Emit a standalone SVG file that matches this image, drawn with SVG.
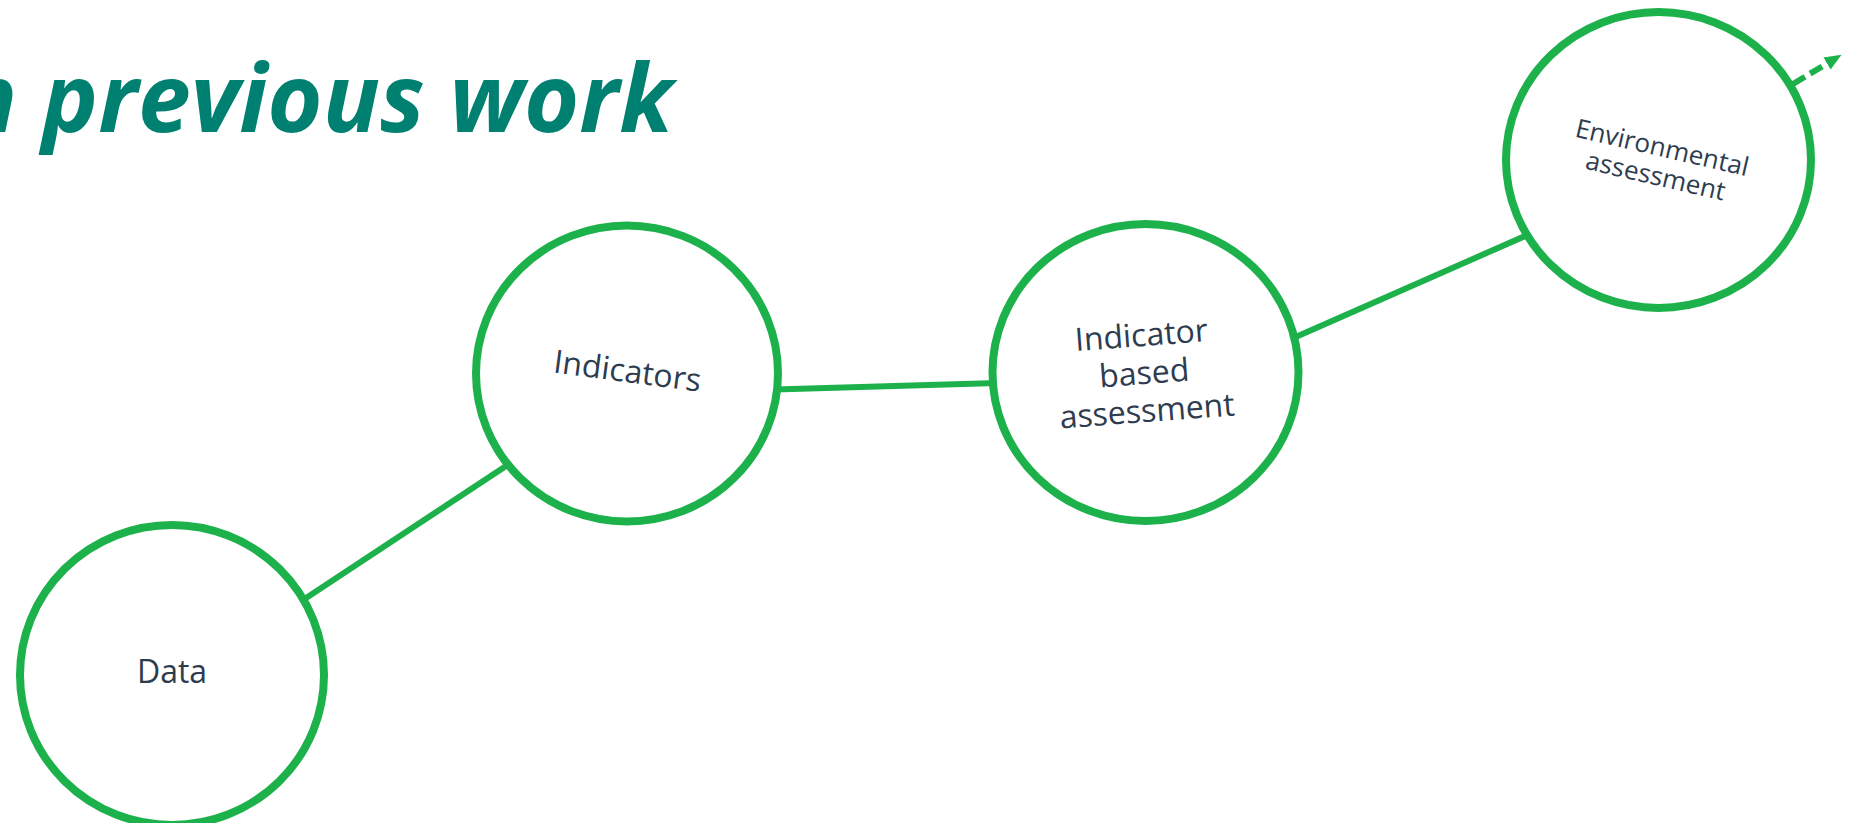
<svg xmlns="http://www.w3.org/2000/svg" width="1858" height="823" viewBox="0 0 1858 823">
  <style>
    .node { fill: #ffffff; stroke: #1db14b; stroke-width: 8; }
    .link { stroke: #1db14b; stroke-width: 6; fill: none; }
    .dash { stroke: #1db14b; stroke-width: 6; fill: none; stroke-dasharray: 14 6; }
    .lbl { font-family: "Open Sans", "Noto Sans", "DejaVu Sans", sans-serif; font-size: 32px; fill: #2e3c4f; text-anchor: middle; }
    .lbl-sm { font-size: 26px; }
    .title { font-family: "Open Sans", "Liberation Sans", sans-serif; font-weight: bold; font-style: italic; font-size: 95px; fill: #008070; }
  </style>
  <defs>
    <marker id="arrow" markerUnits="userSpaceOnUse" markerWidth="18" markerHeight="14" refX="0" refY="7" orient="auto">
      <path d="M0,0 L17,7 L0,14 z" fill="#1db14b"/>
    </marker>
  </defs>
  <rect width="1858" height="823" fill="#ffffff"/>
  <text class="title" x="-40" y="132" textLength="713" lengthAdjust="spacingAndGlyphs">n previous work</text>
  <g id="connectors">
    <line class="link" x1="300" y1="602" x2="512" y2="462"/>
    <line class="link" x1="775" y1="389.5" x2="997" y2="383"/>
    <line class="link" x1="1290" y1="339.4" x2="1532" y2="233"/>
    <line class="dash" x1="1793" y1="84" x2="1827" y2="63.5" marker-end="url(#arrow)"/>
  </g>
  <g id="node-data">
    <ellipse class="node" cx="172" cy="675" rx="152" ry="150"/>
    <text class="lbl" x="172" y="683">Data</text>
  </g>
  <g id="node-indicators">
    <ellipse class="node" cx="627" cy="373.5" rx="151" ry="148"/>
    <text class="lbl" transform="translate(626,382) rotate(7.5)" x="0" y="0">Indicators</text>
  </g>
  <g id="node-indicator-based-assessment">
    <ellipse class="node" cx="1145.5" cy="372.5" rx="153" ry="148.5"/>
    <g transform="translate(1145,384) rotate(-4.3)">
      <text class="lbl" x="0" y="-38">Indicator</text>
      <text class="lbl" x="0" y="0">based</text>
      <text class="lbl" x="0" y="38">assessment</text>
    </g>
  </g>
  <g id="node-environmental-assessment">
    <ellipse class="node" cx="1658.5" cy="160" rx="152.5" ry="148"/>
    <g transform="translate(1657,170) rotate(13)">
      <text class="lbl lbl-sm" x="0" y="-14">Environmental</text>
      <text class="lbl lbl-sm" x="0" y="15">assessment</text>
    </g>
  </g>
</svg>
